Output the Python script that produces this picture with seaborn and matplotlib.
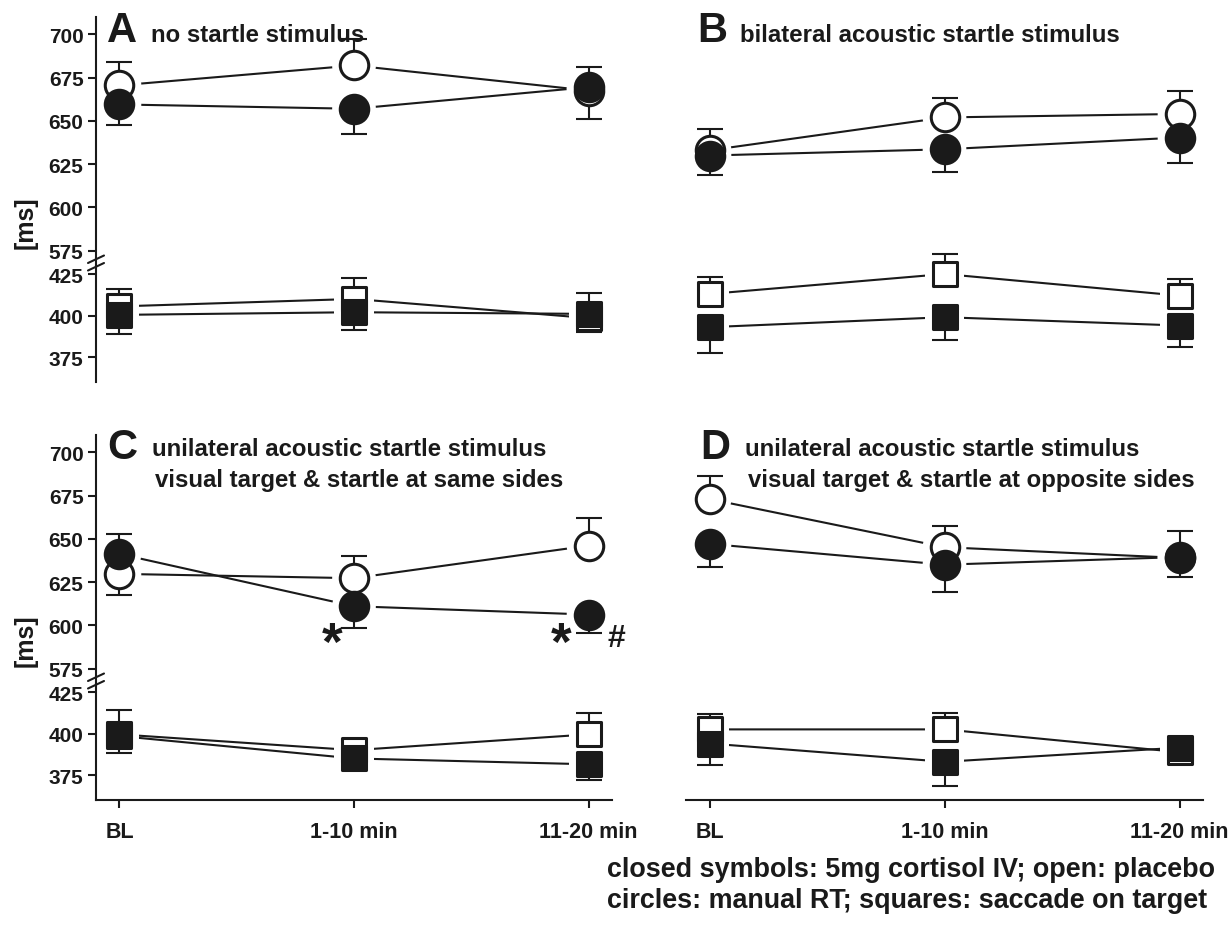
import numpy as np
import matplotlib
matplotlib.use("Agg")
import matplotlib.pyplot as plt
import seaborn as sns
from matplotlib.lines import Line2D

sns.set_theme(style="ticks")
plt.rcParams["font.family"] = ["Liberation Sans", "DejaVu Sans"]
plt.rcParams["font.weight"] = "bold"
plt.rcParams["axes.labelweight"] = "bold"

# ---------------------------------------------------------------- data
times = ["BL", "1-10 min", "11-20 min"]
panel_letters = ["A", "B", "C", "D"]
panel_titles = [
    ["no startle stimulus"],
    ["bilateral acoustic startle stimulus"],
    ["unilateral acoustic startle stimulus",
     "visual target & startle at same sides"],
    ["unilateral acoustic startle stimulus",
     "visual target & startle at opposite sides"],
]
key_lines = [
    "closed symbols: 5mg cortisol IV; open: placebo",
    "circles: manual RT; squares: saccade on target",
]

# manual reaction time (circles), mean and SEM in ms
a_rt_placebo = [670.5, 682.0, 667.5]
a_rt_placebo_sem = [13.7, 15.3, 16.5]
a_rt_cortisol = [659.5, 657.0, 669.5]
a_rt_cortisol_sem = [11.9, 14.4, 11.5]

b_rt_placebo = [633.0, 652.0, 654.0]
b_rt_placebo_sem = [12.6, 11.3, 13.3]
b_rt_cortisol = [630.0, 633.6, 640.4]
b_rt_cortisol_sem = [11.4, 13.0, 14.8]

c_rt_placebo = [629.8, 627.3, 646.1]
c_rt_placebo_sem = [12.1, 12.7, 15.8]
c_rt_cortisol = [641.3, 611.1, 606.3]
c_rt_cortisol_sem = [11.6, 12.5, 10.6]

d_rt_placebo = [673.0, 645.2, 639.0]
d_rt_placebo_sem = [13.5, 12.1, 10.8]
d_rt_cortisol = [647.1, 635.1, 639.5]
d_rt_cortisol_sem = [13.5, 15.5, 15.3]

# saccade on target latency (squares), mean and SEM in ms
a_sac_placebo = [405.5, 410.0, 398.5]
a_sac_placebo_sem = [10.5, 12.4, 8.5]
a_sac_cortisol = [400.4, 402.0, 401.0]
a_sac_cortisol_sem = [11.4, 10.6, 12.4]

b_sac_placebo = [413.0, 425.0, 412.0]
b_sac_placebo_sem = [10.4, 12.0, 10.0]
b_sac_cortisol = [393.0, 399.0, 394.0]
b_sac_cortisol_sem = [15.4, 13.6, 13.0]

c_sac_placebo = [399.5, 390.0, 399.5]
c_sac_placebo_sem = [14.5, 4.0, 13.0]
c_sac_cortisol = [398.5, 385.0, 381.5]
c_sac_cortisol_sem = [10.5, 5.0, 9.5]

d_sac_placebo = [402.5, 402.5, 388.8]
d_sac_placebo_sem = [9.5, 9.9, 6.0]
d_sac_cortisol = [394.0, 383.0, 391.5]
d_sac_cortisol_sem = [13.0, 14.6, 5.0]

rt_ticks = [575, 600, 625, 650, 675, 700]
sac_ticks = [375, 400, 425]

panels = [
    (a_rt_placebo, a_rt_placebo_sem, a_rt_cortisol, a_rt_cortisol_sem,
     a_sac_placebo, a_sac_placebo_sem, a_sac_cortisol, a_sac_cortisol_sem),
    (b_rt_placebo, b_rt_placebo_sem, b_rt_cortisol, b_rt_cortisol_sem,
     b_sac_placebo, b_sac_placebo_sem, b_sac_cortisol, b_sac_cortisol_sem),
    (c_rt_placebo, c_rt_placebo_sem, c_rt_cortisol, c_rt_cortisol_sem,
     c_sac_placebo, c_sac_placebo_sem, c_sac_cortisol, c_sac_cortisol_sem),
    (d_rt_placebo, d_rt_placebo_sem, d_rt_cortisol, d_rt_cortisol_sem,
     d_sac_placebo, d_sac_placebo_sem, d_sac_cortisol, d_sac_cortisol_sem),
]

# ---------------------------------------------------------------- layout
W, H = 1231, 937
fig = plt.figure(figsize=(W / 100, H / 100), dpi=100)


def rect(x0, x1, ytop, ybot):
    return [x0 / W, 1 - ybot / H, (x1 - x0) / W, (ybot - ytop) / H]


def fy(y):
    return 1 - y / H


cols = [(96, 612), (686, 1203)]
row_offsets = [0, 418]
UP = (18, 260.4)
LO = (266.7, 383)

LW = 1.5
EDGE = 2.2
MARKERS = {"o": (420, 990), "s": (315, 820)}


def draw_series(ax, placebo, p_sem, cortisol, c_sem, marker):
    x = np.arange(len(times))
    size, halo = MARKERS[marker]
    for vals in (placebo, cortisol):
        sns.lineplot(x=x, y=vals, ax=ax, color="k", linewidth=LW, sort=False,
                     estimator=None, legend=False, zorder=1)
    for vals in (placebo, cortisol):
        sns.scatterplot(x=x, y=vals, ax=ax, marker=marker, s=halo, color="white",
                        edgecolor="none", linewidth=0, legend=False, zorder=2,
                        clip_on=False)
    p = np.asarray(placebo)
    c = np.asarray(cortisol)
    # each error bar points away from the other group's mean
    for vals, sem, other in ((p, np.asarray(p_sem), c), (c, np.asarray(c_sem), p)):
        up = vals >= other
        ax.errorbar(x, vals, yerr=[np.where(up, 0, sem), np.where(up, sem, 0)],
                    fmt="none", ecolor="k", elinewidth=LW, capsize=9.7,
                    capthick=LW, zorder=3, clip_on=False)
    sns.scatterplot(x=x, y=placebo, ax=ax, marker=marker, s=size, color="white",
                    edgecolor="k", linewidth=EDGE, legend=False, zorder=4,
                    clip_on=False)
    sns.scatterplot(x=x, y=cortisol, ax=ax, marker=marker, s=size, color="k",
                    edgecolor="k", linewidth=EDGE, legend=False, zorder=5,
                    clip_on=False)


axes = []
for i, data in enumerate(panels):
    col = cols[i % 2]
    off = row_offsets[i // 2]
    ax_up = fig.add_axes(rect(col[0], col[1], UP[0] + off, UP[1] + off))
    ax_lo = fig.add_axes(rect(col[0], col[1], LO[0] + off, LO[1] + off))
    for ax in (ax_up, ax_lo):
        ax.set_xlim(-0.1, 2.1)
        ax.patch.set_alpha(0)
        for s in ("top", "right", "bottom", "left"):
            ax.spines[s].set_visible(False)
            ax.spines[s].set_color("k")
            ax.spines[s].set_linewidth(LW)
    ax_up.set_ylim(570, 710)
    ax_lo.set_ylim(360, 430)

    draw_series(ax_up, data[0], data[1], data[2], data[3], "o")
    draw_series(ax_lo, data[4], data[5], data[6], data[7], "s")

    left = i % 2 == 0
    bottom = i // 2 == 1
    for ax, ticks in ((ax_up, rt_ticks), (ax_lo, sac_ticks)):
        ax.set_xlabel("")
        ax.set_ylabel("")
        if left:
            ax.spines["left"].set_visible(True)
            ax.set_yticks(ticks)
            ax.set_yticklabels([str(t) for t in ticks])
            ax.tick_params(axis="y", left=True, length=6, width=LW, labelsize=15,
                           pad=3, color="k", labelcolor="k")
        else:
            ax.set_yticks([])
        ax.set_xticks([])
    if bottom:
        ax_lo.spines["bottom"].set_visible(True)
        ax_lo.set_xticks(range(len(times)))
        ax_lo.set_xticklabels(times)
        ax_lo.tick_params(axis="x", bottom=True, length=6, width=LW,
                          labelsize=15.5, pad=9, color="k", labelcolor="k")
    axes.append((ax_up, ax_lo))

# axis break marks on the left axes
for off in row_offsets:
    x0 = 96 / W
    fig.add_artist(Line2D([x0, x0], [fy(UP[1] + off), fy(LO[0] + off)],
                          color="k", lw=LW))
    for dy in (0, 7.5):
        fig.add_artist(Line2D([88 / W, 104 / W],
                              [fy(264 + dy + off), fy(256.5 + dy + off)],
                              color="k", lw=LW))

# significance marks in panel C
ax_c = axes[2][0]
ax_c.text(0.906, 588.5, "*", ha="center", va="center", fontsize=38,
          fontweight="bold", color="k")
ax_c.text(1.881, 588.5, "*", ha="center", va="center", fontsize=38,
          fontweight="bold", color="k")
ax_c.text(2.119, 593.0, "#", ha="center", va="center", fontsize=23,
          fontweight="bold", color="k")

# panel letters and titles
letter_pos = [(107, 42), (697, 42), (107, 459), (700, 459)]
title_pos = [(151, 42), (740, 42), (152, 456), (745, 456)]
for i in range(4):
    lx, ly = letter_pos[i]
    fig.text(lx / W, fy(ly), panel_letters[i], fontsize=30, fontweight="bold",
             ha="left", va="baseline", color="k")
    tx, ty = title_pos[i]
    for j, line in enumerate(panel_titles[i]):
        fig.text((tx + 3 * j) / W, fy(ty + 31 * j), line, fontsize=17.3,
                 fontweight="bold", ha="left", va="baseline", color="k")

# y-axis labels
for yc in (223, 641):
    fig.text(26 / W, fy(yc), "[ms]", rotation=90, fontsize=18,
             fontweight="bold", ha="center", va="center", color="k")

# symbol key
for j, line in enumerate(key_lines):
    fig.text(607 / W, fy(870 + 31 * j), line, fontsize=19.4,
             fontweight="bold", ha="left", va="center", color="k")

fig.savefig("out.png", dpi=100)
